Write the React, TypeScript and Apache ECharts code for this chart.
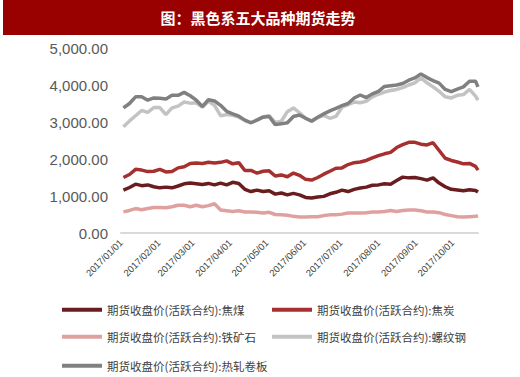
import React, { useEffect, useRef } from "react";
import * as echarts from "echarts";

const dates = [
  "2017-01-03", "2017-01-08", "2017-01-13", "2017-01-18", "2017-01-23", "2017-01-28",
  "2017-02-02", "2017-02-07", "2017-02-12", "2017-02-17", "2017-02-22", "2017-02-27",
  "2017-03-04", "2017-03-09", "2017-03-14", "2017-03-19", "2017-03-24", "2017-03-29",
  "2017-04-03", "2017-04-08", "2017-04-13", "2017-04-18", "2017-04-23", "2017-04-28",
  "2017-05-03", "2017-05-08", "2017-05-13", "2017-05-18", "2017-05-23", "2017-05-28",
  "2017-06-02", "2017-06-07", "2017-06-12", "2017-06-17", "2017-06-22", "2017-06-27",
  "2017-07-02", "2017-07-07", "2017-07-12", "2017-07-17", "2017-07-22", "2017-07-27",
  "2017-08-01", "2017-08-06", "2017-08-11", "2017-08-16", "2017-08-21", "2017-08-26",
  "2017-08-31", "2017-09-05", "2017-09-10", "2017-09-15", "2017-09-20", "2017-09-25",
  "2017-09-30", "2017-10-05", "2017-10-10", "2017-10-15", "2017-10-20", "2017-10-22",
];

const cokingCoal = [
  1160, 1230, 1320, 1280, 1300, 1250, 1220, 1240, 1220, 1270, 1330, 1350,
  1330, 1310, 1340, 1300, 1350, 1300, 1370, 1340, 1180, 1120, 1160, 1120,
  1140, 1050, 1080, 1030, 1070, 1030, 960, 945, 975, 990, 1060, 1100,
  1160, 1120, 1180, 1215, 1240, 1290, 1300, 1330, 1320, 1420, 1510, 1490,
  1500, 1470, 1430, 1490, 1350, 1250, 1180, 1160, 1140, 1170, 1150, 1110,
];

const coke = [
  1500, 1580, 1720, 1700, 1660, 1670, 1720, 1650, 1660, 1760, 1790, 1880,
  1890, 1880, 1910, 1890, 1910, 1950, 1870, 1900, 1690, 1690, 1620, 1670,
  1680, 1540, 1570, 1520, 1620, 1560, 1450, 1430, 1500, 1590, 1670, 1750,
  1760, 1850, 1900, 1920, 1960, 2030, 2090, 2140, 2180, 2310, 2390, 2450,
  2450, 2400, 2380, 2440, 2230, 2020, 1960, 1920, 1870, 1880, 1800, 1700,
];

const ironOre = [
  570, 610, 660, 630, 660, 690, 690, 680, 710, 750, 750, 710,
  750, 710, 740, 790, 620, 600, 580, 600, 570, 570, 560, 540,
  560, 500, 490, 480, 450, 430, 430, 440, 440, 470, 490, 490,
  510, 540, 540, 540, 550, 570, 570, 580, 610, 580, 610, 620,
  620, 600, 570, 570, 550, 500, 470, 440, 430, 440, 450, 460,
];

const rebar = [
  2870, 3030, 3170, 3310, 3260, 3390, 3390, 3200, 3380, 3430, 3540, 3510,
  3520, 3400, 3560, 3450, 3170, 3200, 3180, 3130, 3040, 2980, 3060, 3140,
  3170, 2990, 3020, 3280, 3380, 3250, 3100, 3030, 3120, 3180, 3100, 3150,
  3400, 3470, 3540, 3520, 3560, 3680, 3750, 3810, 3850, 3880, 3930, 4000,
  4060, 4190, 4060, 3950, 3830, 3680, 3650, 3720, 3740, 3880, 3700, 3590,
];

const hotRolled = [
  3380, 3500, 3680, 3680, 3590, 3650, 3640, 3620, 3720, 3720, 3800, 3710,
  3590, 3420, 3600, 3570, 3450, 3290, 3220, 3160, 3050, 2980, 3050, 3130,
  3150, 2930, 2950, 2980, 3150, 3190, 3100, 3020, 3130, 3220, 3300, 3370,
  3440, 3500, 3650, 3730, 3660, 3760, 3830, 3960, 3980, 4000, 4040, 4130,
  4190, 4300, 4200, 4120, 4050, 3880, 3820, 3890, 3950, 4100, 4100, 3950,
];

const seriesNames = [
  "期货收盘价(活跃合约):焦煤",
  "期货收盘价(活跃合约):焦炭",
  "期货收盘价(活跃合约):铁矿石",
  "期货收盘价(活跃合约):螺纹钢",
  "期货收盘价(活跃合约):热轧卷板",
];
const seriesColors = ["#6a1d1e", "#a5302f", "#e0a09f", "#c3c3c3", "#808080"];
const seriesValues = [cokingCoal, coke, ironOre, rebar, hotRolled];

const titleText = "图：黑色系五大品种期货走势";
const yTicks = [0, 1000, 2000, 3000, 4000, 5000];

const legendPos = [
  { left: 62, top: 304 },
  { left: 272, top: 304 },
  { left: 62, top: 331 },
  { left: 272, top: 331 },
  { left: 62, top: 360 },
];

export default function App() {
  const ref = useRef<HTMLDivElement>(null);
  useEffect(() => {
    if (!ref.current) return;
    const chart = echarts.init(ref.current, null, { renderer: "svg" });
    const DAY = 86400000;
    chart.setOption({
      animation: false,
      backgroundColor: "#ffffff",
      graphic: [
        { type: "rect", shape: { x: 3, y: 0, width: 510, height: 35 }, style: { fill: "#990000" } },
        {
          type: "text",
          x: 258,
          y: 17,
          style: {
            text: titleText,
            fill: "#ffffff",
            font: 'bold 15px "Noto Sans CJK SC"',
            textAlign: "center",
            textVerticalAlign: "middle",
          },
        },
      ],
      legend: seriesNames.map((n, i) => ({
        data: [n],
        left: legendPos[i].left,
        top: legendPos[i].top,
        icon: "rect",
        itemWidth: 40,
        itemHeight: 4,
        padding: 0,
        textStyle: { fontSize: 11.5, color: "#404040", fontFamily: "Noto Sans CJK SC" },
      })),
      grid: { left: 121, right: 42, top: 48, bottom: 144 },
      xAxis: {
        type: "time",
        min: "2017-01-01",
        max: "2017-10-22",
        splitNumber: 10,
        minInterval: 28 * DAY,
        maxInterval: 31 * DAY,
        axisLine: { lineStyle: { color: "#d9d9d9", width: 2 } },
        axisTick: { show: false },
        splitLine: { show: false },
        axisLabel: {
          interval: 0,
          hideOverlap: false,
          rotate: 45,
          fontSize: 9.5,
          color: "#404040",
          fontFamily: "Liberation Sans",
          margin: 8,
          formatter: "{yyyy}/{MM}/{dd}",
          showMaxLabel: false,
        },
      },
      yAxis: {
        type: "value",
        min: yTicks[0],
        max: yTicks[yTicks.length - 1],
        interval: 1000,
        axisLine: { show: false },
        axisTick: { show: false },
        splitLine: { show: false },
        axisLabel: {
          fontSize: 15,
          color: "#595959",
          fontFamily: "Liberation Sans",
          margin: 13,
          formatter: (v: number) =>
            v.toLocaleString("en-US", { minimumFractionDigits: 2, maximumFractionDigits: 2 }),
        },
      },
      series: seriesNames.map((n, i) => ({
        name: n,
        type: "line",
        showSymbol: false,
        symbol: "none",
        color: seriesColors[i],
        lineStyle: { width: 3.5, color: seriesColors[i] },
        data: dates.map((d, j) => [d, seriesValues[i][j]]),
      })),
    });
    return () => chart.dispose();
  }, []);
  return <div ref={ref} style={{ width: 520, height: 377, position: "absolute", left: 0, top: 0 }} />;
}
